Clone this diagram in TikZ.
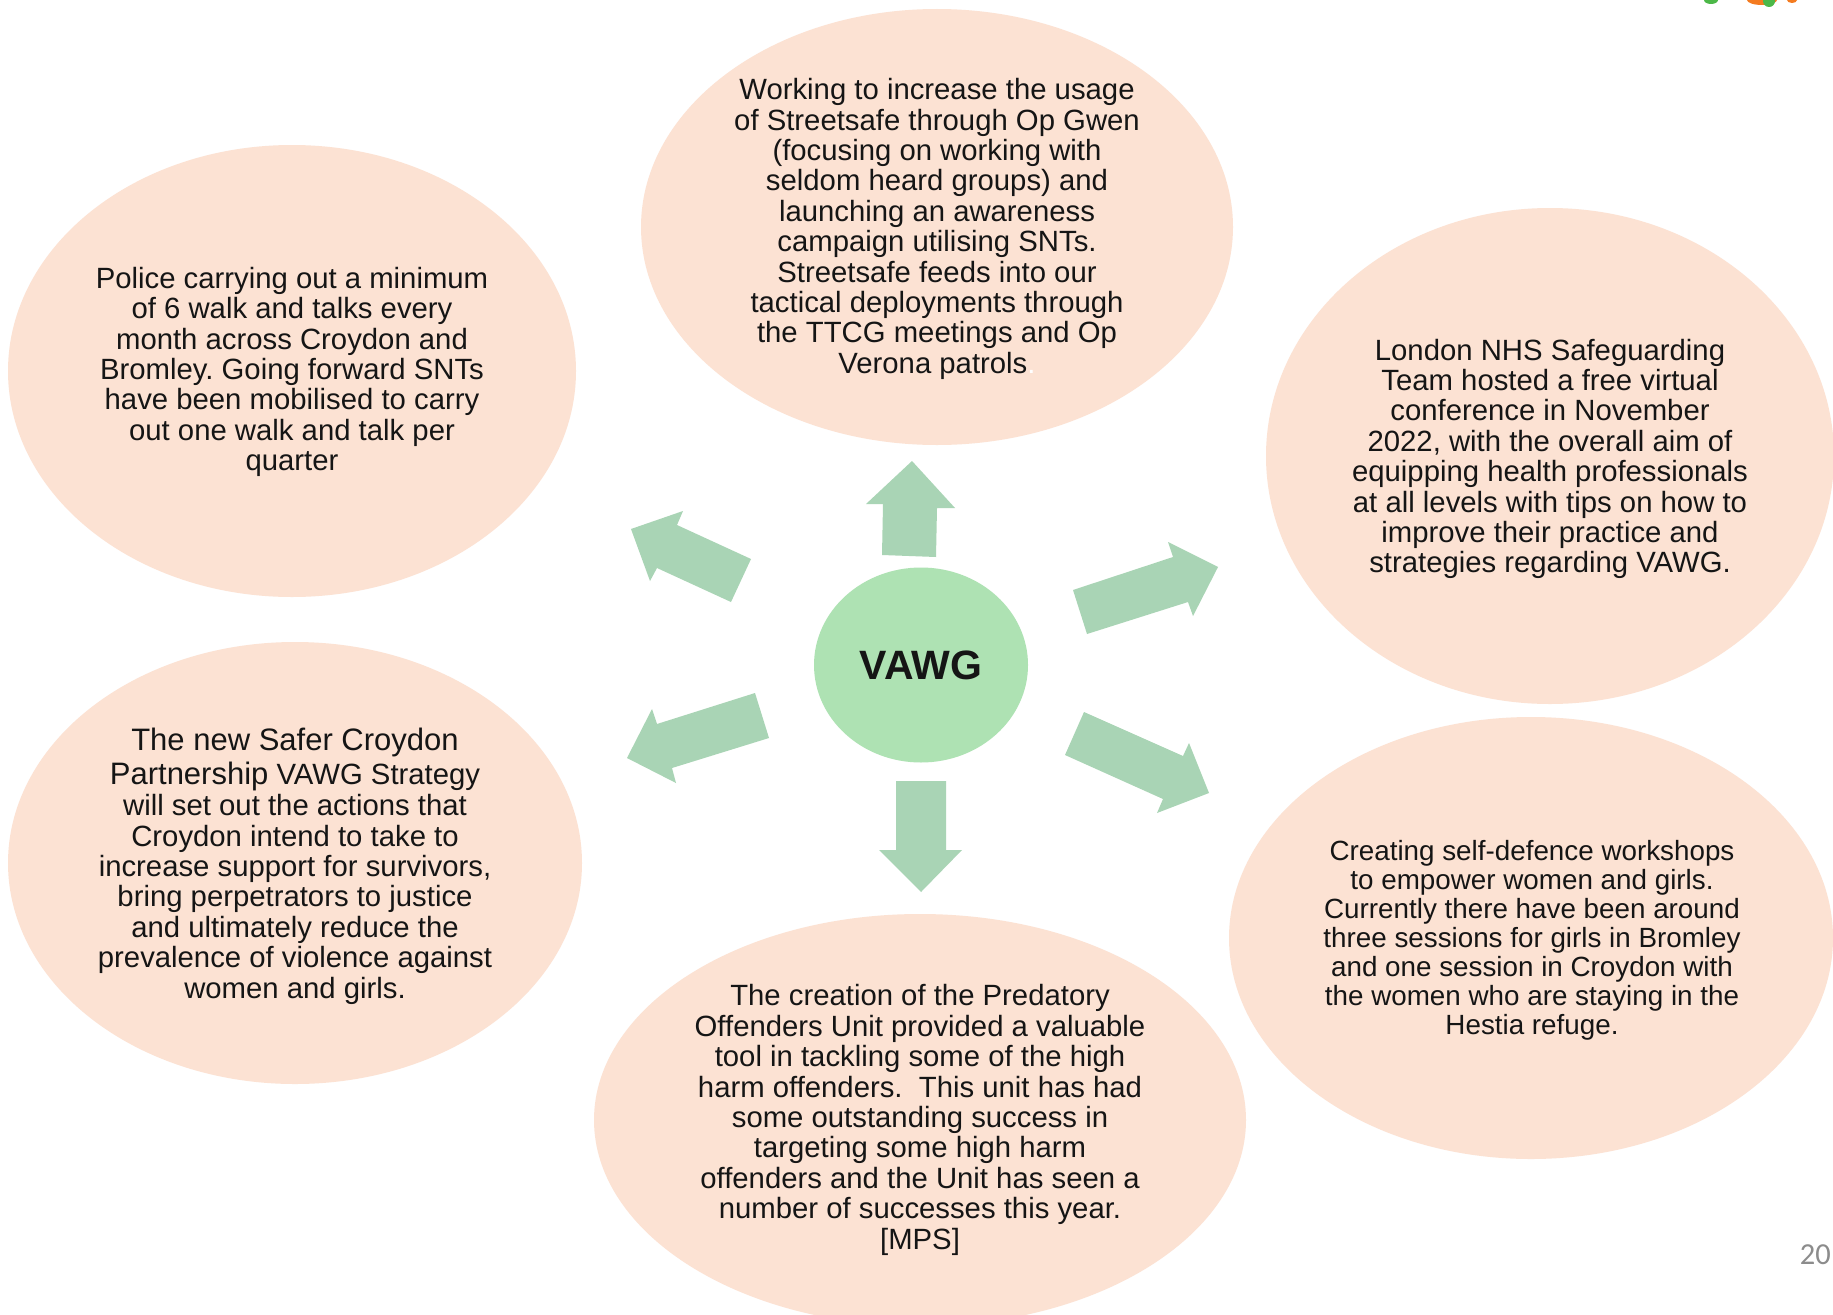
\documentclass[tikz,border=0pt]{standalone}
\usepackage{fontspec}
\setmainfont{Liberation Sans}
\newfontfamily\pagefont{Carlito}
\frenchspacing
\definecolor{peach}{HTML}{FCE2D3}
\definecolor{arrowgreen}{HTML}{A9D4B5}
\definecolor{hubgreen}{HTML}{AEE2B3}
\definecolor{ink}{HTML}{151515}
\definecolor{pagegray}{HTML}{8C8C8C}
\definecolor{logogreen}{HTML}{4CB848}
\definecolor{logoorange}{HTML}{F47B20}
\tikzset{
  bubble/.style={fill=peach},
  body/.style={align=center, text=ink, inner sep=0pt, font=\fontsize{29.3}{30.4}\selectfont},
  fatarrow/.style={fill=arrowgreen},
}
\begin{document}
\begin{tikzpicture}[x=1pt,y=-1pt]
\useasboundingbox (0,0) rectangle (1833,1314);
\fill[white] (0,0) rectangle (1833,1314);

% logo fragments at top edge
\fill[logogreen] (1711,0) ellipse [x radius=7pt, y radius=4pt];
\fill[logoorange] (1762,0) ellipse [x radius=15pt, y radius=5pt];
\fill[logogreen] (1769,1) ellipse [x radius=6pt, y radius=6pt];
\fill[logoorange] (1792,0) ellipse [x radius=5pt, y radius=3pt];

% bubbles
\fill[bubble] (937,227) ellipse [x radius=296pt, y radius=218pt];
\fill[bubble] (292,371) ellipse [x radius=284pt, y radius=226pt];
\fill[bubble] (1550,456) ellipse [x radius=284pt, y radius=248pt];
\fill[bubble] (295,863) ellipse [x radius=287pt, y radius=221pt];
\fill[bubble] (1531,938) ellipse [x radius=302pt, y radius=221pt];
\fill[bubble] (920,1120) ellipse [x radius=326pt, y radius=206pt];

% hub
\fill[hubgreen] (921,665) ellipse [x radius=107pt, y radius=97.5pt];
\node[inner sep=0pt, text=ink, font=\bfseries\fontsize{41}{44}\selectfont] (hub) at (921,665) {VAWG};

% arrows
\fill[fatarrow] (912,461) -- (955,508) -- (937,508) -- (936,557) -- (882,555) -- (883,504) -- (866,504) -- cycle;
\fill[fatarrow] (631,529) -- (683,511) -- (677,525) -- (751,559) -- (731,602) -- (657,568) -- (650,581) -- cycle;
\fill[fatarrow] (1073,590) -- (1173,557) -- (1168,542) -- (1218,567) -- (1193,616) -- (1188,602) -- (1087,634) -- cycle;
\fill[fatarrow] (627,758) -- (652,709) -- (657,724) -- (755,693) -- (769,738) -- (672,768) -- (676,783) -- cycle;
\fill[fatarrow] (896,781) -- (946,781) -- (946,850) -- (962,850) -- (921,892) -- (879,850) -- (896,850) -- cycle;
\fill[fatarrow] (1084,712) -- (1183,756) -- (1189,743) -- (1209,793) -- (1157,813) -- (1163,799) -- (1065,755) -- cycle;

% texts
\node[body] (top) at (937,229) {Working to increase the usage\\of Streetsafe through Op Gwen\\(focusing on working with\\seldom heard groups) and\\launching an awareness\\campaign utilising SNTs.\\Streetsafe feeds into our\\tactical deployments through\\the TTCG meetings and Op\\Verona patrols\textcolor{white}{.}};

\node[body] (tl) at (292,372) {Police carrying out a minimum\\of 6 walk and talks every\\month across Croydon and\\Bromley. Going forward SNTs\\have been mobilised to carry\\out one walk and talk per\\quarter};

\node[body] (tr) at (1550,459) {London NHS Safeguarding\\Team hosted a free virtual\\conference in November\\2022, with the overall aim of\\equipping health professionals\\at all levels with tips on how to\\improve their practice and\\strategies regarding VAWG.};

\node[body] (bl) at (295,866) {{\fontsize{31}{34}\selectfont The new Safer Croydon}\\[3.5pt]{\fontsize{31}{34}\selectfont Partnership} VAWG Strategy\\[1.2pt]will set out the actions that\\Croydon intend to take to\\increase support for survivors,\\bring perpetrators to justice\\and ultimately reduce the\\prevalence of violence against\\women and girls.};

\node[body, font=\fontsize{27.8}{29}\selectfont] (br) at (1532,940) {Creating self-defence workshops\\to empower women and girls.\\Currently there have been around\\three sessions for girls in Bromley\\and one session in Croydon with\\the women who are staying in the\\Hestia refuge.};

\node[body] (bc) at (920,1120) {The creation of the Predatory\\Offenders Unit provided a valuable\\tool in tackling some of the high\\harm offenders.\ \ This unit has had\\some outstanding success in\\targeting some high harm\\offenders and the Unit has seen a\\number of successes this year.\\{}[MPS]};

% page number
\node[anchor=base east, inner sep=0pt, text=pagegray, font=\pagefont\fontsize{30.5}{32}\selectfont] (pg) at (1831,1264) {20};
\end{tikzpicture}
\end{document}
